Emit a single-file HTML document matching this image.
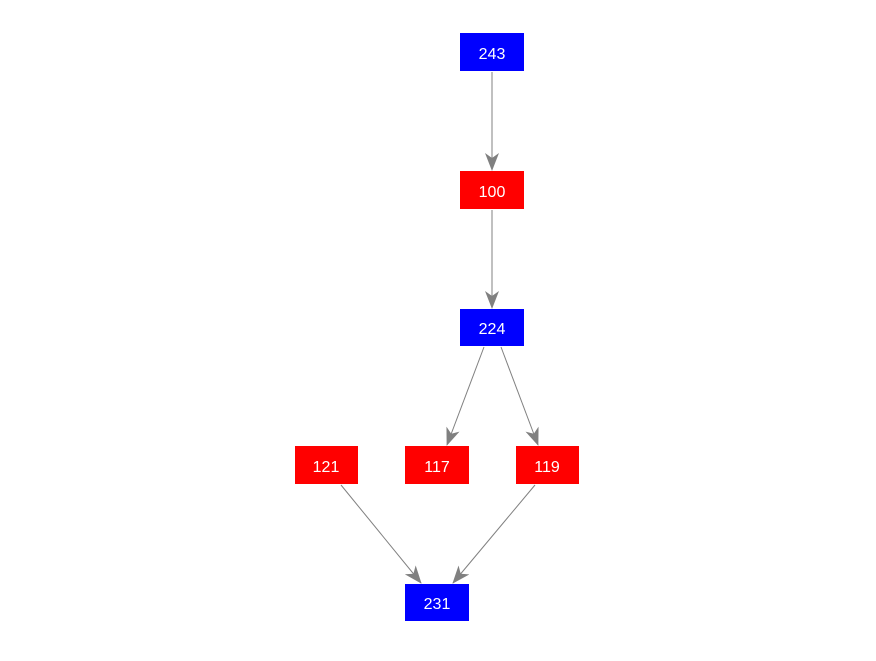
<!DOCTYPE html><html><head><style>body{margin:0;background:#fff}</style></head><body>
<svg width="876" height="656" xmlns="http://www.w3.org/2000/svg" font-family="Liberation Sans, sans-serif" font-size="16">
<defs><marker id="a" markerWidth="18" markerHeight="14" refX="17" refY="7" orient="auto" markerUnits="userSpaceOnUse"><path d="M0,0 L18,7 L0,14 L5,7 Z" fill="#808080"/></marker></defs>
<g stroke="#808080" stroke-width="1" marker-end="url(#a)">
<line x1="492" y1="72" x2="492" y2="170"/>
<line x1="492" y1="210" x2="492" y2="308"/>
<line x1="484" y1="347" x2="447" y2="445"/>
<line x1="501" y1="347" x2="538" y2="445"/>
<line x1="341" y1="485" x2="421" y2="583"/>
<line x1="535" y1="485" x2="453" y2="583"/>
</g>
<g fill="#fff" text-anchor="middle">
<rect x="460" y="33" width="64" height="38" fill="#0000ff"/><text x="492" y="59">243</text>
<rect x="460" y="171" width="64" height="38" fill="#ff0000"/><text x="492" y="197">100</text>
<rect x="460" y="309" width="64" height="37" fill="#0000ff"/><text x="492" y="334">224</text>
<rect x="295" y="446" width="63" height="38" fill="#ff0000"/><text x="326" y="472">121</text>
<rect x="405" y="446" width="64" height="38" fill="#ff0000"/><text x="437" y="472">117</text>
<rect x="516" y="446" width="63" height="38" fill="#ff0000"/><text x="547" y="472">119</text>
<rect x="405" y="584" width="64" height="37" fill="#0000ff"/><text x="437" y="609">231</text>
</g>
</svg>
</body></html>
